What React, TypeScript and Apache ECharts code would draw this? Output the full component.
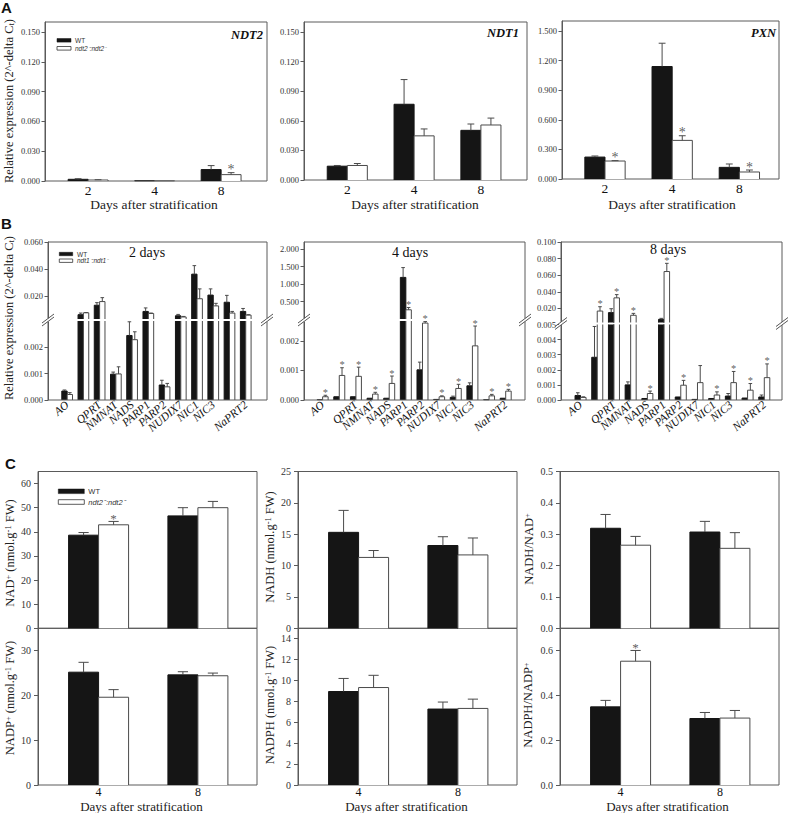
import React, { useEffect, useRef } from 'react';
import * as echarts from 'echarts';

const SERIF = 'Liberation Serif, Times New Roman, serif';
const SANS = 'Liberation Sans, Arial, sans-serif';

// ---------- Panel A ----------
const daysA = ['2', '4', '8'];
const ndt2WT = [0.0017, 0.0002, 0.0115];
const ndt2WTsd = [0.0006, 0.0, 0.004];
const ndt2Mut = [0.001, 0.0002, 0.0064];
const ndt2Mutsd = [0.0003, 0.0, 0.002];
const ndt2Star = [0, 0, 1];

const ndt1WT = [0.014, 0.0767, 0.0503];
const ndt1WTsd = [0.0007, 0.025, 0.0064];
const ndt1Mut = [0.0147, 0.0447, 0.0557];
const ndt1Mutsd = [0.002, 0.007, 0.007];
const ndt1Star = [0, 0, 0];

const pxnWT = [0.222, 1.139, 0.118];
const pxnWTsd = [0.011, 0.236, 0.034];
const pxnMut = [0.182, 0.391, 0.071];
const pxnMutsd = [0.004, 0.047, 0.02];
const pxnStar = [1, 1, 1];

const ticksA12 = [0, 0.03, 0.06, 0.09, 0.12, 0.15];
const ticksA3 = [0, 0.3, 0.6, 0.9, 1.2, 1.5];

// ---------- Panel B ----------
const genesB = ['AO', 'QS', 'QPRT', 'NMNAT', 'NADS', 'PARP1', 'PARP2', 'NUDIX7', 'NIC1', 'NIC3', 'NaPRT1', 'NaPRT2'];

const d2WT = [0.00034, 0.0062, 0.0132, 0.00098, 0.00245, 0.0086, 0.00057, 0.0054, 0.0362, 0.0207, 0.0154, 0.0086];
const d2WTsd = [0.00004, 0.0012, 0.0019, 0.00008, 0.00052, 0.0026, 0.00018, 0.001, 0.0063, 0.0046, 0.0051, 0.0022];
const d2Mut = [0.00021, 0.0076, 0.0159, 0.00099, 0.00229, 0.0071, 0.0005, 0.0045, 0.018, 0.0127, 0.0074, 0.0059];
const d2Mutsd = [0.00007, 0.0002, 0.0029, 0.00027, 0.0003, 0.0003, 0.00013, 0.0004, 0.0073, 0.0019, 0.0012, 0.0003];
const d2Star = [0, 0, 0, 0, 0, 0, 0, 0, 0, 0, 0, 0];

const d4WT = [0.00001, 0.00011, 0.00011, 0.00006, 0.00006, 1.19, 0.00102, 0.00002, 0.00009, 0.00048, 0.00001, 0.00006];
const d4WTsd = [0, 0, 0, 0, 0, 0.28, 0.00026, 0, 0.00004, 0.0001, 0, 0];
const d4Mut = [0.00011, 0.00083, 0.0008, 0.0002, 0.00056, 0.266, 0.0026, 0.00011, 0.00039, 0.00183, 0.00014, 0.0003];
const d4Mutsd = [0.00005, 0.00026, 0.00031, 0.00006, 0.00025, 0.066, 0.00005, 0.00003, 0.00014, 0.00067, 0.00005, 0.00006];
const d4Star = [1, 1, 1, 1, 1, 1, 1, 1, 1, 1, 1, 1];

const d8WT = [0.0003, 0.00283, 0.0149, 0.001, 0.0001, 0.0068, 0.0002, 0.00004, 0.0001, 0.00026, 0.00013, 0.0002];
const d8WTsd = [0.00018, 0.00204, 0.0047, 0.0002, 0, 0.0012, 0, 0, 0, 0.00017, 0, 0.00013];
const d8Mut = [0.00017, 0.0168, 0.0327, 0.0117, 0.00043, 0.0644, 0.00098, 0.00115, 0.00033, 0.00115, 0.00065, 0.00148];
const d8Mutsd = [0.00004, 0.0052, 0.0039, 0.0023, 0.00016, 0.0099, 0.00032, 0.00113, 0.00021, 0.00074, 0.00044, 0.00091];
const d8Star = [0, 1, 1, 1, 1, 1, 1, 0, 1, 1, 1, 1];

const ticksB2Up = [0.02, 0.04, 0.06];
const ticksB2Low = [0, 0.001, 0.002];
const ticksB4Up = [0.5, 1.0, 1.5, 2.0];
const ticksB4Low = [0, 0.001, 0.002];
const ticksB8Up = [0.02, 0.04, 0.06, 0.08, 0.1];
const ticksB8Low = [0, 0.001, 0.002, 0.003, 0.004, 0.005];

// ---------- Panel C ----------
const daysC = ['4', '8'];
const nadWT = [38.6, 46.6];
const nadWTsd = [1.1, 3.4];
const nadMut = [42.9, 50.0];
const nadMutsd = [1.4, 2.6];
const nadStar = [1, 0];

const nadpWT = [25.2, 24.6];
const nadpWTsd = [2.2, 0.7];
const nadpMut = [19.6, 24.4];
const nadpMutsd = [1.7, 0.6];
const nadpStar = [0, 0];

const nadhWT = [15.3, 13.2];
const nadhWTsd = [3.5, 1.4];
const nadhMut = [11.3, 11.7];
const nadhMutsd = [1.1, 2.7];
const nadhStar = [0, 0];

const nadphWT = [8.95, 7.27];
const nadphWTsd = [1.25, 0.67];
const nadphMut = [9.33, 7.33];
const nadphMutsd = [1.17, 0.89];
const nadphStar = [0, 0];

const rNadWT = [0.319, 0.307];
const rNadWTsd = [0.044, 0.034];
const rNadMut = [0.265, 0.255];
const rNadMutsd = [0.028, 0.05];
const rNadStar = [0, 0];

const rNadpWT = [0.349, 0.297];
const rNadpWTsd = [0.029, 0.027];
const rNadpMut = [0.553, 0.299];
const rNadpMutsd = [0.048, 0.034];
const rNadpStar = [1, 0];

const ticksNad = [0, 10, 20, 30, 40, 50, 60];
const ticksNadp = [0, 10, 20, 30];
const ticksNadh = [0, 5, 10, 15, 20, 25];
const ticksNadph = [0, 2, 4, 6, 8, 10, 12, 14];
const ticksRNad = [0, 0.1, 0.2, 0.3, 0.4, 0.5];
const ticksRNadp = [0, 0.2, 0.4, 0.6];

// ---------- builder ----------
const BOX = '#5a5a5a';
const WT_FILL = '#151515';
const MUT_STROKE = '#4a4a4a';
const ERR = '#4a4a4a';
const STAR = '#333333';

function buildOption() {
  const grids: any[] = [];
  const xAxes: any[] = [];
  const yAxes: any[] = [];
  const series: any[] = [];
  const graphic: any[] = [];

  function addGrid(o: any): number {
    const idx = grids.length;
    grids.push({
      left: o.l, top: o.t, width: o.r - o.l, height: o.b - o.t,
      show: !!o.border, borderColor: BOX, borderWidth: 1, backgroundColor: 'transparent',
    });
    xAxes.push({
      gridIndex: idx, type: 'value', min: o.xMin, max: o.xMax, position: 'bottom',
      axisLine: { show: false, onZero: false }, axisTick: { show: false }, splitLine: { show: false },
      axisLabel: o.xNames
        ? {
            show: true,
            showMinLabel: true,
            showMaxLabel: true,
            hideOverlap: false,
            customValues: o.xNames.map((_: string, i: number) => i),
            formatter: (v: number) => o.xNames[Math.round(v)] ?? '',
            fontFamily: SERIF, fontSize: o.xFont, color: '#111',
            fontStyle: o.xItalic ? 'italic' : 'normal',
            rotate: o.xRotate || 0, margin: o.xMargin,
          }
        : { show: false },
    });
    yAxes.push({
      gridIndex: idx, type: 'value', min: o.yMin, max: o.yMax, position: 'left',
      axisLine: { show: true, onZero: false, lineStyle: { color: BOX, width: 1 } }, splitLine: { show: false },
      axisTick: { show: true, inside: false, length: o.tickLen, customValues: o.ticks, lineStyle: { color: BOX, width: 1 } },
      axisLabel: {
        show: true, customValues: o.ticks, showMinLabel: true, showMaxLabel: true,
        formatter: (v: number) => v.toFixed(o.dec),
        fontFamily: SERIF, fontSize: o.yFont, color: '#333', margin: o.yMargin,
      },
    });
    return idx;
  }

  function addBars(gi: number, vals: number[], sds: number[], side: number, bw: number, skipBelow: number) {
    const fill = side < 0 ? WT_FILL : '#ffffff';
    const stroke = side < 0 ? WT_FILL : MUT_STROKE;
    series.push({
      type: 'custom', coordinateSystem: 'cartesian2d', xAxisIndex: gi, yAxisIndex: gi, silent: true,
      itemStyle: { color: stroke },
      data: vals.map((v, i) => [i, v, sds[i]]),
      renderItem: (params: any, api: any) => {
        const x = api.value(0);
        const v = api.value(1);
        const sd = api.value(2);
        if (v <= skipBelow) return null;
        const cs = params.coordSys;
        const top = cs.y;
        const bot = cs.y + cs.height;
        const xa = side < 0 ? x - bw : x;
        const xb = side < 0 ? x : x + bw;
        const pA = api.coord([xa, 0]);
        const pB = api.coord([xb, v]);
        const pE = api.coord([(xa + xb) / 2, v + sd]);
        const children: any[] = [];
        const y0 = Math.min(pA[1], bot);
        const y1 = Math.max(pB[1], top);
        const xl = pA[0];
        const xr = pB[0];
        if (y0 > y1) {
          children.push({ type: 'rect', shape: { x: xl, y: y1, width: xr - xl, height: y0 - y1 }, style: { fill, stroke: 'none' } });
          const clippedTop = pB[1] < top;
          if (clippedTop) {
            children.push({ type: 'line', shape: { x1: xl, y1: y0, x2: xl, y2: y1 }, style: { stroke, lineWidth: 1 } });
            children.push({ type: 'line', shape: { x1: xr, y1: y0, x2: xr, y2: y1 }, style: { stroke, lineWidth: 1 } });
          } else {
            children.push({ type: 'polyline', shape: { points: [[xl, y0], [xl, y1], [xr, y1], [xr, y0]] }, style: { stroke, fill: 'none', lineWidth: 1 } });
          }
        }
        if (sd > 0) {
          const ey = pE[1];
          const ly0 = Math.min(pB[1], bot);
          const ly1 = Math.max(ey, top);
          if (ly0 > ly1) {
            children.push({ type: 'line', shape: { x1: pE[0], y1: ly0, x2: pE[0], y2: ly1 }, style: { stroke: ERR, lineWidth: 1 } });
          }
          const cw = Math.max(1.8, (xr - xl) * 0.17);
          if (ey >= top - 0.5 && ey <= bot) {
            children.push({ type: 'line', shape: { x1: pE[0] - cw, y1: ey, x2: pE[0] + cw, y2: ey }, style: { stroke: ERR, lineWidth: 1 } });
          }
        }
        return { type: 'group', children };
      },
    });
  }

  function addStars(gi: number, pts: number[][], fontSize: number, off: number) {
    series.push({
      type: 'scatter', xAxisIndex: gi, yAxisIndex: gi, silent: true, clip: false,
      symbol: 'rect', symbolSize: 0.5,
      itemStyle: { color: 'rgba(255,255,255,0)' },
      data: pts,
      label: {
        show: true, formatter: '*', position: 'inside', offset: [0, -off],
        color: STAR, fontSize, fontFamily: SERIF,
      },
      emphasis: { disabled: true },
    });
  }

  function txt(x: number, y: number, text: string, style: any = {}, rotation = 0) {
    graphic.push({
      type: 'text', x, y, rotation, silent: true, z: 50,
      style: { text, fill: '#222', fontFamily: SERIF, fontSize: 13, align: 'center', verticalAlign: 'middle', ...style },
    });
  }

  function legend(x: number, y1: number, y2: number, w: number, h: number, mutLabel: string, fs: number, tx: number) {
    graphic.push({ type: 'rect', z: 50, shape: { x, y: y1, width: w, height: h }, style: { fill: WT_FILL, stroke: WT_FILL, lineWidth: 0.5 } });
    graphic.push({ type: 'rect', z: 50, shape: { x, y: y2, width: w, height: h }, style: { fill: '#fff', stroke: '#333', lineWidth: 0.8 } });
    txt(tx, y1 + h / 2, 'WT', { fontFamily: SANS, fontSize: fs, align: 'left', fill: '#333' });
    txt(tx, y2 + h / 2, mutLabel, { fontFamily: SANS, fontSize: fs, align: 'left', fontStyle: 'italic', fill: '#333' });
  }

  // ---------- A ----------
  const bwA = 0.3;
  const aPanels = [
    { l: 45, t: 22, r: 267, b: 181, xr: [-0.648, 2.69], ymax: 0.16, ticks: ticksA12, wt: ndt2WT, wsd: ndt2WTsd, m: ndt2Mut, msd: ndt2Mutsd, st: ndt2Star },
    { l: 304, t: 22, r: 527, b: 180, xr: [-0.648, 2.69], ymax: 0.16, ticks: ticksA12, wt: ndt1WT, wsd: ndt1WTsd, m: ndt1Mut, msd: ndt1Mutsd, st: ndt1Star },
    { l: 562, t: 21, r: 779, b: 179, xr: [-0.64, 2.59], ymax: 1.6, ticks: ticksA3, wt: pxnWT, wsd: pxnWTsd, m: pxnMut, msd: pxnMutsd, st: pxnStar },
  ];
  aPanels.forEach((p) => {
    const gi = addGrid({
      l: p.l, t: p.t, r: p.r, b: p.b, border: true, xMin: p.xr[0], xMax: p.xr[1],
      xNames: daysA, xFont: 13.5, xMargin: 2.5, yMin: 0, yMax: p.ymax, ticks: p.ticks, dec: 3,
      tickLen: 3.5, yFont: 8.5, yMargin: 5,
    });
    addBars(gi, p.wt, p.wsd, -1, bwA, -Infinity);
    addBars(gi, p.m, p.msd, 1, bwA, -Infinity);
    addStars(gi, p.m.map((v, i) => [i + bwA / 2, v + p.msd[i]]).filter((_, i) => p.st[i]), 14, 3);
  });

  // ---------- B ----------
  const bwB = 0.33;
  const bPanels = [
    { l: 48, r: 267, brk: 320, xr: [-1.18, 12.31], lowMax: 0.003, upMin: 0.003, upMax: 0.06, tU: ticksB2Up, tL: ticksB2Low, wt: d2WT, wsd: d2WTsd, m: d2Mut, msd: d2Mutsd, st: d2Star },
    { l: 304, r: 525, brk: 320, xr: [-1.12, 12.16], lowMax: 0.00267, upMin: 0.003, upMax: 2.2, tU: ticksB4Up, tL: ticksB4Low, wt: d4WT, wsd: d4WTsd, m: d4Mut, msd: d4Mutsd, st: d4Star },
    { l: 561, r: 782, brk: 323.5, xr: [-1.17, 12.06], lowMax: 0.005, upMin: 0.003, upMax: 0.1, tU: ticksB8Up, tL: ticksB8Low, wt: d8WT, wsd: d8WTsd, m: d8Mut, msd: d8Mutsd, st: d8Star },
  ];
  const bTop = 242;
  const bBot = 400;
  bPanels.forEach((p) => {
    const gU = addGrid({
      l: p.l, t: bTop, r: p.r, b: p.brk - 1, border: false, xMin: p.xr[0], xMax: p.xr[1],
      yMin: p.upMin, yMax: p.upMax, ticks: p.tU, dec: 3, tickLen: 3.5, yFont: 8.5, yMargin: 5,
    });
    const gL = addGrid({
      l: p.l, t: p.brk + 1, r: p.r, b: bBot, border: false, xMin: p.xr[0], xMax: p.xr[1],
      xNames: genesB, xFont: 11.5, xItalic: true, xRotate: 40, xMargin: 3,
      yMin: 0, yMax: p.lowMax, ticks: p.tL, dec: 3, tickLen: 3.5, yFont: 8.5, yMargin: 5,
    });
    addBars(gL, p.wt, p.wsd, -1, bwB, -Infinity);
    addBars(gL, p.m, p.msd, 1, bwB, -Infinity);
    addBars(gU, p.wt, p.wsd, -1, bwB, p.lowMax);
    addBars(gU, p.m, p.msd, 1, bwB, p.lowMax);
    const stars = p.m.map((v, i) => [i + bwB / 2, v + p.msd[i]]).filter((_, i) => p.st[i]);
    addStars(gL, stars.filter((s) => s[1] <= p.lowMax), 10.5, 3);
    addStars(gU, stars.filter((s) => s[1] > p.lowMax), 10.5, 3);
    // frame
    graphic.push({ type: 'rect', z: 5, shape: { x: p.l, y: bTop, width: p.r - p.l, height: bBot - bTop }, style: { fill: 'none', stroke: BOX, lineWidth: 1 } });
    [p.l, p.r].forEach((x) => {
      const y = p.brk;
      graphic.push({ type: 'rect', z: 60, shape: { x: x - 2, y: y - 1.6, width: 4, height: 3.2 }, style: { fill: '#fff', stroke: 'none' } });
      graphic.push({ type: 'line', z: 61, shape: { x1: x - 6, y1: y + 3, x2: x + 6, y2: y - 6 }, style: { stroke: '#555', lineWidth: 1 } });
      graphic.push({ type: 'line', z: 61, shape: { x1: x - 6, y1: y + 6, x2: x + 6, y2: y - 3 }, style: { stroke: '#555', lineWidth: 1 } });
    });
  });

  // ---------- C ----------
  const bwC = 0.302;
  const cTop = 471.5;
  const cMid = 628.3;
  const cBot = 785;
  const cCols = [
    { l: 38, r: 257, up: { ymax: 65, ticks: ticksNad, dec: 0, wt: nadWT, wsd: nadWTsd, m: nadMut, msd: nadMutsd, st: nadStar }, lo: { ymax: 35, ticks: ticksNadp, dec: 0, wt: nadpWT, wsd: nadpWTsd, m: nadpMut, msd: nadpMutsd, st: nadpStar } },
    { l: 298, r: 517, up: { ymax: 25, ticks: ticksNadh, dec: 0, wt: nadhWT, wsd: nadhWTsd, m: nadhMut, msd: nadhMutsd, st: nadhStar }, lo: { ymax: 15, ticks: ticksNadph, dec: 0, wt: nadphWT, wsd: nadphWTsd, m: nadphMut, msd: nadphMutsd, st: nadphStar } },
    { l: 560, r: 779, up: { ymax: 0.5, ticks: ticksRNad, dec: 1, wt: rNadWT, wsd: rNadWTsd, m: rNadMut, msd: rNadMutsd, st: rNadStar }, lo: { ymax: 0.7, ticks: ticksRNadp, dec: 1, wt: rNadpWT, wsd: rNadpWTsd, m: rNadpMut, msd: rNadpMutsd, st: rNadpStar } },
  ];
  cCols.forEach((c) => {
    [
      { d: c.up, t: cTop, b: cMid, names: null as any },
      { d: c.lo, t: cMid, b: cBot, names: daysC },
    ].forEach((row) => {
      const gi = addGrid({
        l: c.l, t: row.t, r: c.r, b: row.b, border: true, xMin: -0.61, xMax: 1.595,
        xNames: row.names, xFont: 12, xMargin: 1,
        yMin: 0, yMax: row.d.ymax, ticks: row.d.ticks, dec: row.d.dec, tickLen: 4, yFont: 10, yMargin: 7,
      });
      addBars(gi, row.d.wt, row.d.wsd, -1, bwC, -Infinity);
      addBars(gi, row.d.m, row.d.msd, 1, bwC, -Infinity);
      addStars(gi, row.d.m.map((v: number, i: number) => [i + bwC / 2, v + row.d.msd[i]]).filter((_: any, i: number) => row.d.st[i]), 13, 3);
    });
  });

  // ---------- texts ----------
  txt(1, 7, 'A', { fontFamily: SANS, fontWeight: 'bold', fontSize: 15, align: 'left', fill: '#111' });
  txt(1, 223, 'B', { fontFamily: SANS, fontWeight: 'bold', fontSize: 15, align: 'left', fill: '#111' });
  txt(5, 463, 'C', { fontFamily: SANS, fontWeight: 'bold', fontSize: 15, align: 'left', fill: '#111' });

  const relRich = {
    n: { fontFamily: SERIF, fontSize: 12.5, fill: '#222' },
    s: { fontFamily: SERIF, fontSize: 8.5, fill: '#222', verticalAlign: 'bottom', padding: [4, 0, 0, 0] },
  };
  txt(9, 101, '{n|Relative expression (2^-delta C}{s|t}{n|)}', { rich: relRich }, Math.PI / 2);
  txt(9, 318, '{n|Relative expression (2^-delta C}{s|t}{n|)}', { rich: relRich }, Math.PI / 2);

  const gStyle = { fontWeight: 'bold', fontStyle: 'italic', fontSize: 12.5, align: 'right', fill: '#111' };
  txt(263, 35, 'NDT2', gStyle);
  txt(519, 33, 'NDT1', gStyle);
  txt(776, 33, 'PXN', gStyle);

  const xtStyle = { fontSize: 13.5, fill: '#222' };
  txt(154, 204.5, 'Days after stratification', xtStyle);
  txt(415, 204.5, 'Days after stratification', xtStyle);
  txt(672, 204.5, 'Days after stratification', xtStyle);

  legend(57, 38.5, 46.5, 14, 3.6, 'ndt2\u207B:ndt2\u207B', 6.5, 75);

  txt(147, 252, '2 days', { fontSize: 14, fill: '#111' });
  txt(410, 252, '4 days', { fontSize: 14, fill: '#111' });
  txt(668, 249.5, '8 days', { fontSize: 14, fill: '#111' });
  legend(59.3, 252.3, 259, 13.4, 3.4, 'ndt1\u207B:ndt1\u207B', 6.5, 77);

  const cRich = {
    n: { fontFamily: SERIF, fontSize: 12.5, fill: '#222' },
    p: { fontFamily: SERIF, fontSize: 8.5, fill: '#222', verticalAlign: 'top' },
  };
  txt(10, 553, '{n|NAD}{p|+}{n| (nmol.g}{p|-1}{n| FW)}', { rich: cRich }, Math.PI / 2);
  txt(10, 698, '{n|NADP}{p|+}{n| (nmol.g}{p|-1}{n| FW)}', { rich: cRich }, Math.PI / 2);
  txt(270, 547, '{n|NADH (nmol.g}{p|-1}{n| FW)}', { rich: cRich }, Math.PI / 2);
  txt(270, 705, '{n|NADPH (nmol.g}{p|-1}{n| FW)}', { rich: cRich }, Math.PI / 2);
  txt(529, 549, '{n|NADH/NAD}{p|+}', { rich: cRich }, Math.PI / 2);
  txt(528, 705, '{n|NADPH/NADP}{p|+}', { rich: cRich }, Math.PI / 2);

  const xtStyleC = { fontSize: 13, fill: '#222' };
  txt(141.5, 806.8, 'Days after stratification', xtStyleC);
  txt(406.5, 806.8, 'Days after stratification', xtStyleC);
  txt(667.5, 806.8, 'Days after stratification', xtStyleC);

  legend(58.3, 489, 499.7, 26, 4.6, 'ndt2\u207B:ndt2\u207B', 7.5, 88.3);

  return {
    animation: false,
    backgroundColor: '#ffffff',
    textStyle: { fontFamily: SERIF },
    grid: grids,
    xAxis: xAxes,
    yAxis: yAxes,
    series,
    graphic: { elements: graphic },
  };
}

export default function App() {
  const ref = useRef<HTMLDivElement>(null);
  useEffect(() => {
    if (!ref.current) return;
    const chart = echarts.init(ref.current, null, { renderer: 'svg' });
    chart.setOption(buildOption() as any);
    return () => chart.dispose();
  }, []);
  return (
    <div
      ref={ref}
      style={{ position: 'absolute', left: 0, top: 0, width: 789, height: 813, background: '#fff' }}
    />
  );
}
